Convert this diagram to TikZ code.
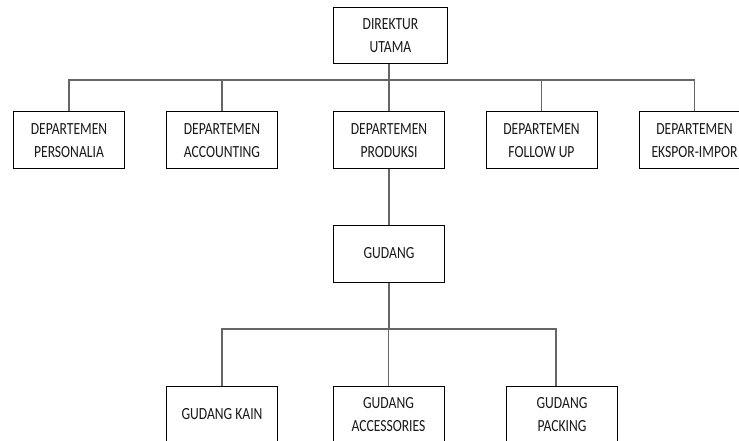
\documentclass[tikz,border=0pt]{standalone}
\usepackage{fontspec}
\setmainfont{Carlito}[FakeStretch=0.8]
\begin{document}
\begin{tikzpicture}[x=1pt,y=-1pt,
  unit/.style={draw=black, line width=1pt, minimum width=111pt, minimum height=57pt,
    inner sep=0pt, align=center, text=black!90, font=\fontsize{17}{23}\selectfont},
  conn/.style={draw=black!60, line width=1.5pt}]
  \useasboundingbox (0,0) rectangle (739,441);
  \fill[white] (0,0) rectangle (739,441);
  \clip (0,0) rectangle (739,441);

  % top level
  \node[unit, minimum width=114pt, minimum height=56pt] (dir) at (390.5,36) {DIREKTUR\\UTAMA};

  % departments
  \node[unit] (pers) at (69,140.5)    {DEPARTEMEN\\PERSONALIA};
  \node[unit] (acct) at (222,140.5)   {DEPARTEMEN\\ACCOUNTING};
  \node[unit] (prod) at (389,140.5)   {DEPARTEMEN\\PRODUKSI};
  \node[unit] (foll) at (541.5,140.5) {DEPARTEMEN\\FOLLOW UP};
  \node[unit] (eksp) at (694.5,140.5) {DEPARTEMEN\\EKSPOR-IMPOR};

  % warehouse
  \node[unit] (gud) at (389,253.5) {GUDANG};

  % sub-warehouses
  \node[unit] (kain) at (222,414.5) {GUDANG KAIN};
  \node[unit] (accs) at (388.5,414.5) {GUDANG\\ACCESSORIES};
  \node[unit] (pack) at (562,414.5) {GUDANG\\PACKING};

  % bus lines
  \coordinate (busA) at (390,80);
  \coordinate (busB) at (389,329);
  \coordinate (packtop) at (556,386);

  % director to departments
  \draw[conn] (prod.north |- dir.south) -- (prod.north);
  \draw[conn] (pers.north) |- (eksp.north |- busA) -- (eksp.north);
  \draw[conn] (acct.north) -- (acct.north |- busA);
  \draw[conn] (foll.north) -- (foll.north |- busA);

  % production to warehouse
  \draw[conn] (prod.south) -- (gud.north);

  % warehouse to sub-warehouses
  \draw[conn] (gud.south) -- (gud.south |- busB);
  \draw[conn] (kain.north) |- (packtop |- busB) -- (packtop);
  \draw[conn] (accs.north) -- (accs.north |- busB);
\end{tikzpicture}
\end{document}
